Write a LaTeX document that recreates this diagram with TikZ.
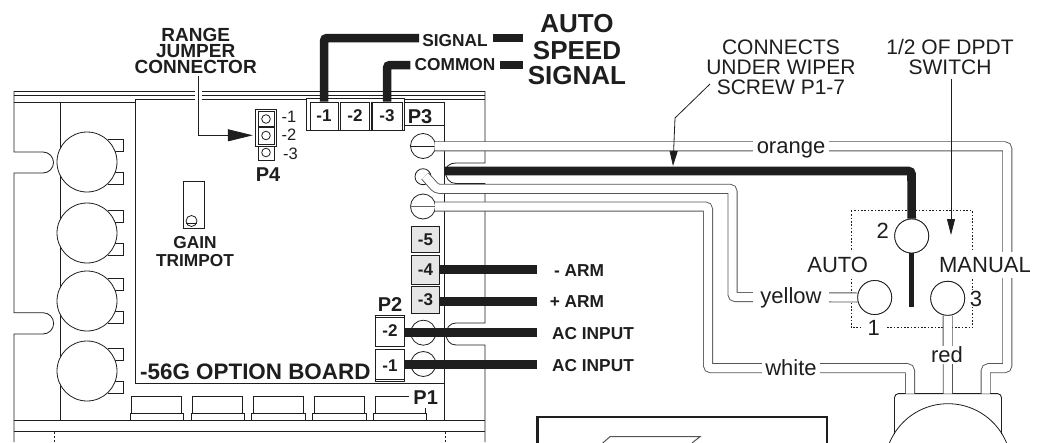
\documentclass[tikz,border=0pt]{standalone}
\usepackage{fontspec}
\setmainfont{Liberation Sans}
\usetikzlibrary{arrows.meta}
\definecolor{ink}{HTML}{1E1E1E}
\definecolor{wireline}{HTML}{555555}
\definecolor{termgray}{HTML}{E6E6E6}
\tikzset{
  thin line/.style={draw=ink,line width=0.8pt},
  lbl/.style={inner sep=0pt,text=ink,text depth=0pt,align=center},
  bsm/.style={lbl,text height=12.2pt,font=\fontsize{17.3}{17}\selectfont\bfseries},
  bmd/.style={lbl,text height=14pt,font=\fontsize{20}{20}\selectfont\bfseries},
  reg/.style={lbl,text height=15.8pt,font=\fontsize{22}{22}\selectfont,fill=white},
  regsmall/.style={lbl,text height=11.8pt,font=\fontsize{16.5}{16.5}\selectfont},
  note/.style={inner sep=0pt,text=ink,align=center,font=\fontsize{21}{20}\selectfont},
  bnote/.style={inner sep=0pt,text=ink,align=center,font=\fontsize{19}{16}\selectfont\bfseries},
  bignote/.style={lbl,text height=18.6pt,font=\fontsize{26}{26}\selectfont\bfseries},
  term/.style={draw=ink,line width=0.8pt,fill=white,inner sep=0pt,text=ink,font=\fontsize{17}{17}\selectfont\bfseries},
  heavy/.style={draw=ink,line width=8.5pt,rounded corners=3pt},
  hookup/.style={draw=wireline,line width=0.9pt,double=white,double distance=8.2pt,rounded corners=3pt},
  swnode/.style={circle,draw=ink,line width=0.8pt,fill=white,minimum size=34pt,inner sep=0pt},
  screw/.style={circle,draw=ink,line width=0.8pt,fill=white,minimum size=25pt,inner sep=0pt},
  leader/.style={draw=ink,line width=0.8pt},
}
\begin{document}
\begin{tikzpicture}[x=1pt,y=-1pt]
\useasboundingbox (0,0) rectangle (1042,442);
\path[clip] (0,0) rectangle (1042,442);
\fill[white] (0,0) rectangle (1042,442);

% ---------- board outline
\draw[thin line] (14,91) -- (195,91) (201.5,91) -- (485,91);
\draw[thin line] (14,95.5) -- (195,95.5) (201.5,95.5) -- (485,95.5);
\draw[thin line] (135,99) -- (195,99) (201.5,99) -- (485,99);
\draw[thin line] (14,102.7) -- (135,102.7);
\draw[thin line] (14,91) -- (14,152) -- (43,152) arc[start angle=-90,end angle=90,radius=10.5] -- (14,173)
   -- (14,312.7) -- (43,312.7) arc[start angle=-90,end angle=90,radius=10.65] -- (14,334) -- (14,442);
\draw[thin line] (60,102.7) -- (60,420);
\draw[thin line] (135,99) -- (135,383) -- (444,383);
\draw[thin line] (444,102) -- (444,420);
\draw[thin line] (14,420) -- (485,420);
\draw[draw=ink,line width=1.4pt] (14,431.7) -- (485,431.7);
\draw[thin line] (485,91) -- (485,163) -- (456,163) .. controls (449,163) and (446,167) .. (445,171)
   .. controls (446,178) and (449,183.5) .. (456,183.5) -- (485,183.5) -- (485,323) -- (456,323)
   .. controls (450,323) and (446,328) .. (446,334) .. controls (446,340) and (450,345) .. (456,345)
   -- (485,345) -- (485,442);
\draw[thin line,dash pattern=on 2pt off 2pt] (54,432) -- (54,442);
\draw[thin line,dash pattern=on 2pt off 2pt] (445,432) -- (445,442);

% ---------- left capacitors with tabs
\foreach \cy in {162,233,301,371}{
  \draw[thin line] (108,\cy-23) -- (123,\cy-23) -- (123,\cy-11) -- (112,\cy-11);
  \draw[thin line] (112,\cy+10.5) -- (123,\cy+10.5) -- (123,\cy+22.5) -- (108,\cy+22.5);
  \draw[thin line,fill=white] (87,\cy) circle (30);
}

% ---------- trimpot
\draw[thin line] (183,181) rectangle (204,228);
\draw[thin line] (191.5,221) circle (5.5);
\draw[thin line] (186,223.5) -- (197,223.5);
\node[bsm] (gain) at (195,242) {GAIN};
\node[bsm] (trimpot) at (195,260) {TRIMPOT};

% ---------- P4 header
\node[draw=ink,line width=0.8pt,minimum width=21pt,minimum height=37.7pt,inner sep=0pt] (p4) at (266.2,127.8) {};
\draw[thin line] (258,111.7) rectangle (274,126);
\draw[thin line] (258,127.7) rectangle (274,144);
\draw[thin line] (258,146.7) rectangle (274,160);
\foreach \py in {119,135.5,152.5}{\draw[thin line] (266,\py) circle (4.3);}
\node[regsmall] (p4a) at (289,117) {-1};
\node[regsmall] (p4b) at (289,135) {-2};
\node[regsmall] (p4c) at (290.5,154) {-3};
\node[bmd] (p4lab) at (268,174) {P4};

\node[bnote] (range) at (195.7,50.5) {RANGE\\JUMPER\\CONNECTOR};
\draw[leader,-{Triangle[length=25pt,width=12pt]},shorten >=2.5pt] ([xshift=3pt,yshift=-3pt]range.south) |- ([yshift=-7.5pt]p4.west);

% ---------- P3 terminals
\draw[thin line,fill=white] (306,98.5) rectangle (404,130);
\draw[thin line] (404,102) -- (444,102) (404,125) -- (444,125);
\node[term,minimum width=28pt,minimum height=28pt] (t1) at (324,116) {-1};
\node[term,minimum width=29pt,minimum height=28pt] (t2) at (355,116) {-2};
\node[term,minimum width=30pt,minimum height=28pt] (t3) at (387,116) {-3};
\draw[thin line] (338,102) -- (338,130) (371,102) -- (371,130);
\node[bmd] (p3) at (420,116) {P3};

\node[bsm] (signal) at (455,40) {SIGNAL};
\node[bsm] (common) at (455,64) {COMMON};
\coordinate (sigend) at (523,38);
\coordinate (comend) at (523,65);
\draw[heavy] (t1.north) |- ([xshift=-3pt,yshift=2pt]signal.west);
\draw[heavy] (t3.north) |- ([xshift=-4pt,yshift=-1pt]common.west);
\draw[heavy] ([xshift=5pt,yshift=2pt]signal.east) -- (sigend);
\draw[heavy] ([xshift=4pt,yshift=-1pt]common.east) -- (comend);
\node[bignote] (autotxt) at (577,23) {AUTO};
\node[bignote] (speedtxt) at (577,50) {SPEED};
\node[bignote] (signaltxt) at (577,75) {SIGNAL};

% ---------- screws
\node[screw] (scr1) at (423,146) {};
\node[circle,draw=ink,line width=0.8pt,fill=white,minimum size=16pt,inner sep=0pt] (scr2) at (423,176.7) {};
\node[screw] (scr3) at (423,206.5) {};
\draw[thin line] (scr1.west) -- (scr1.east);
\draw[draw=ink!70,line width=1.5pt] (scr3.west) -- (scr3.east);
\node[screw] (scr4) at (423.3,332.7) {};
\node[screw] (scr5) at (423.3,364) {};

% ---------- terminals P1 strip -5 -4 -3
\node[term,fill=termgray,minimum width=27.6pt,minimum height=26pt] (s5) at (425.5,239.7) {-5};
\node[term,fill=termgray,minimum width=27.6pt,minimum height=29.3pt] (s4) at (425.5,269.7) {-4};
\node[term,fill=termgray,minimum width=27.6pt,minimum height=26.6pt] (s3) at (425.5,300) {-3};
\node[bsm] (minusarm) at (579,270) {- ARM};
\node[bsm] (plusarm) at (577,301) {+ ARM};
\node[bsm] (ac2) at (593,333) {AC INPUT};
\node[bsm] (ac1) at (593,365) {AC INPUT};
\coordinate (armA) at (537,269.4);
\coordinate (armB) at (537,301.7);
\coordinate (acA) at (537,332.7);
\coordinate (acB) at (537,364.3);
\draw[draw=ink,line width=9.3pt] (s4.east |- armA) -- (armA);
\draw[draw=ink,line width=9.3pt] (s3.east |- armB) -- (armB);

% ---------- P2
\node[bmd] (p2) at (390,304) {P2};
\node[term,minimum width=28.3pt,minimum height=31pt] (p2b) at (390,331) {-2};
\node[term,minimum width=28.3pt,minimum height=31.7pt] (p2a) at (390,365.2) {-1};
\draw[thin line] (375.7,317.5) -- (404,317.5) (375.7,379) -- (404,379);
\draw[draw=ink,line width=9.3pt] (p2b.east |- acA) -- (acA);
\draw[draw=ink,line width=9.3pt] (p2a.east |- acB) -- (acB);

\node[lbl,text height=16pt,font=\fontsize{22.4}{22.4}\selectfont\bfseries,anchor=west] (optboard) at (140,371) {-56G OPTION BOARD};

% ---------- P1 connectors
\foreach \a/\b/\c/\d in {131.7/181.7/130/183,192.7/242.7/191/244,253.3/303.7/251.7/305,314.3/364.7/312.7/366}{
  \draw[thin line] (\a,413.3) -- (\a,396.7) -- (\b,396.7) -- (\b,413.3);
  \draw[thin line] (\c,420) -- (\c,413.3) -- (\d,413.3) -- (\d,420);
}
\draw[thin line] (375.7,413.3) -- (375.7,396.7) -- (409,396.7);
\draw[thin line] (373.7,420) -- (373.7,413.3) -- (426.3,413.3) -- (426.3,420);
\draw[thin line] (425,408) -- (425,413.3);
\node[bmd] (p1) at (425.7,397) {P1};

% ---------- switch
\draw[draw=ink,line width=0.9pt,dash pattern=on 1.6pt off 1.8pt] (851,210.7) rectangle (972.7,327.7);
\node[swnode] (sw2) at (911.7,236) {};
\node[swnode] (sw1) at (874.7,297.5) {};
\node[swnode] (sw3) at (947.7,298.3) {};
\coordinate (poleend) at (911.7,306.7);

% ---------- motor
\draw[draw=ink,line width=0.8pt] (948,467) circle (63.3);
\draw[draw=ink,line width=0.9pt,rounded corners=4pt] (894.5,434) -- (894.5,393.6) -- (1001.5,393.6) -- (1001.5,434);

% ---------- hookup wires
\coordinate (orangeend) at (985.7,393.6);
\coordinate (whiteend) at (910,393.6);
\coordinate (redend) at (947.8,393.6);
\coordinate (orA) at (1007.3,146.3);
\coordinate (orB) at (1007.3,368.2);
\coordinate (orC) at (985.7,368.2);
\draw[hookup] (434.5,146.3) -- (orA) -- (orB) -- (orC) -- (orangeend);
\coordinate (whA) at (708,206.5);
\coordinate (whB) at (708,368.2);
\coordinate (whC) at (910,368.2);
\draw[hookup] (435,206.5) -- (whA) -- (whB) -- (whC) -- (whiteend);
\coordinate (yeA) at (436.5,188.8);
\coordinate (yeB) at (732.5,188.8);
\coordinate (yeC) at (732.5,297);
\draw[hookup] (425,176) -- (yeA) -- (yeB) -- (yeC) -- (sw1.west);
\draw[hookup] (sw3.south) -- (redend);

% thick wire
\coordinate (thA) at (911.5,171);
\coordinate (thS) at (444,171);
\draw[draw=ink,line width=8.6pt,rounded corners=3pt] (thS) -- (thA) -- (sw2.north);
\node[swnode] at (sw2) {};
\draw[draw=ink,line width=4.7pt] (sw2.south) -- (poleend);
\node[swnode] at (sw1) {};
\node[swnode] at (sw3) {};

% ---------- wire labels
\node[reg,inner xsep=4pt,inner ysep=3pt] (orange) at (791,146) {orange};
\node[reg,inner xsep=7pt,inner ysep=3pt] (yellow) at (791,296) {yellow};
\node[reg,inner xsep=3.5pt,inner ysep=3pt] (whitel) at (791,368) {white};
\node[reg,inner xsep=3pt,inner ysep=1pt] (red) at (947,355) {red};
\node[reg,inner xsep=1pt,inner ysep=5pt] (autol) at (837.7,265) {AUTO};
\node[reg,inner xsep=1pt,inner ysep=5pt] (manual) at (985,265) {MANUAL};
\node[reg,inner xsep=6pt,inner ysep=1pt] (n1) at (873.7,328) {1};
\node[reg,inner xsep=1pt,inner ysep=1pt] (n2) at (882.7,231) {2};
\node[reg,inner xsep=1pt,inner ysep=1pt] (n3) at (976,298.5) {3};

% ---------- notes
\node[note] (connects) at (781,67) {CONNECTS\\UNDER WIPER\\SCREW P1-7};
\node[note] (dpdt) at (950,57) {1/2 OF DPDT\\SWITCH};
\coordinate (conA) at (710,84);
\coordinate (conB) at (675,118);
\coordinate (conC) at (673,166);
\draw[leader,-{Triangle[length=15pt,width=8pt]}] (conA) -- (conB) -- (conC);
\coordinate (dpTip) at (951,235);
\draw[leader,-{Triangle[length=16pt,width=8pt]}] ([xshift=1pt,yshift=-4pt]dpdt.south) -- (dpTip);

% ---------- lower box
\draw[draw=ink,line width=2.5pt] (537.5,445) -- (537.5,417) -- (827,417) -- (827,445);
\draw[draw=wireline,line width=1pt] (602.7,443) -- (610,436.7) -- (700,436.7) -- (692,443);
\end{tikzpicture}
\end{document}
